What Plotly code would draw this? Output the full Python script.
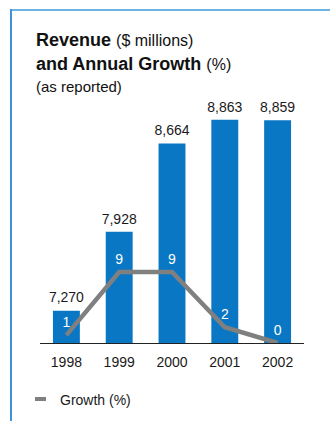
import plotly.graph_objects as go

years = ["1998", "1999", "2000", "2001", "2002"]
revenue = [7270, 7928, 8664, 8863, 8859]
growth = [1, 9, 9, 2, 0]
revenue_labels = ["7,270", "7,928", "8,664", "8,863", "8,859"]
growth_name = "Growth (%)"

W, H = 330, 421
L, R, T, B = 40, 26, 100, 78
PW, PH = W - L - R, H - T - B

def px(x):
    return (x - L) / PW

def py(y):
    return (H - B - y) / PH

NARROW = "Liberation Sans Narrow, Arial Narrow, Liberation Sans, Arial, sans-serif"
SANS = "Liberation Sans, Arial, sans-serif"
LBL = 14

fig = go.Figure()
fig.add_trace(go.Bar(
    x=years, y=revenue, marker=dict(color="#0a77c4", line=dict(width=0)),
    showlegend=False, hoverinfo="skip",
))
fig.add_trace(go.Scatter(
    x=years, y=revenue, mode="markers+text",
    marker=dict(size=6, color="rgba(0,0,0,0)"),
    text=revenue_labels, textposition="top center",
    textfont=dict(family=NARROW, size=LBL, color="#1a1a1a"),
    cliponaxis=False, showlegend=False, hoverinfo="skip",
))
fig.add_trace(go.Scatter(
    x=years, y=growth, yaxis="y2", mode="lines",
    line=dict(color="#808080", width=4.5),
    cliponaxis=False, showlegend=False, hoverinfo="skip", name=growth_name,
))
fig.add_trace(go.Scatter(
    x=years, y=growth, yaxis="y2", mode="markers+text",
    marker=dict(size=6, color="rgba(0,0,0,0)"),
    text=[str(g) for g in growth], textposition="top center",
    textfont=dict(family=NARROW, size=LBL, color="white"),
    cliponaxis=False, showlegend=False, hoverinfo="skip",
))

fig.update_layout(
    width=W, height=H, margin=dict(l=L, r=R, t=T, b=B),
    paper_bgcolor="white", plot_bgcolor="white",
    bargap=0.49,
    xaxis=dict(showline=True, linecolor="#222", linewidth=1, ticks="",
               ticklabelstandoff=6,
               tickfont=dict(family=NARROW, size=LBL, color="#1a1a1a"),
               showgrid=False, fixedrange=True),
    yaxis=dict(range=[7000, 9028], visible=False, showgrid=False),
    yaxis2=dict(range=[0, 30.8], overlaying="y", visible=False, showgrid=False),
    font=dict(family=SANS),
)

# frame lines
fig.add_shape(type="line", xref="paper", yref="paper", x0=px(11), x1=px(331),
              y0=py(10), y1=py(10), line=dict(color="#6db4e2", width=2))
fig.add_shape(type="line", xref="paper", yref="paper", x0=px(11), x1=px(11),
              y0=py(9), y1=py(425), line=dict(color="#3d93d6", width=2))

# titles
fig.add_annotation(xref="paper", yref="paper", x=px(34), y=py(40), xanchor="left", yanchor="middle",
                   showarrow=False, text="<b>Revenue</b> <span style='font-size:16px'>($ millions)</span>",
                   font=dict(family=SANS, size=18, color="#111"))
fig.add_annotation(xref="paper", yref="paper", x=px(34), y=py(64), xanchor="left", yanchor="middle",
                   showarrow=False, text="<b>and Annual Growth</b> <span style='font-size:16px'>(%)</span>",
                   font=dict(family=SANS, size=18, color="#111"))
fig.add_annotation(xref="paper", yref="paper", x=px(34), y=py(86), xanchor="left", yanchor="middle",
                   showarrow=False, text="(as reported)",
                   font=dict(family=SANS, size=15, color="#111"))

# legend
fig.add_shape(type="line", xref="paper", yref="paper", x0=px(35), x1=px(46),
              y0=py(399), y1=py(399), line=dict(color="#808080", width=4))
fig.add_annotation(xref="paper", yref="paper", x=px(58), y=py(400), xanchor="left", yanchor="middle",
                   showarrow=False, text=growth_name,
                   font=dict(family=NARROW, size=LBL, color="#1a1a1a"))

fig.write_html("out.html")
